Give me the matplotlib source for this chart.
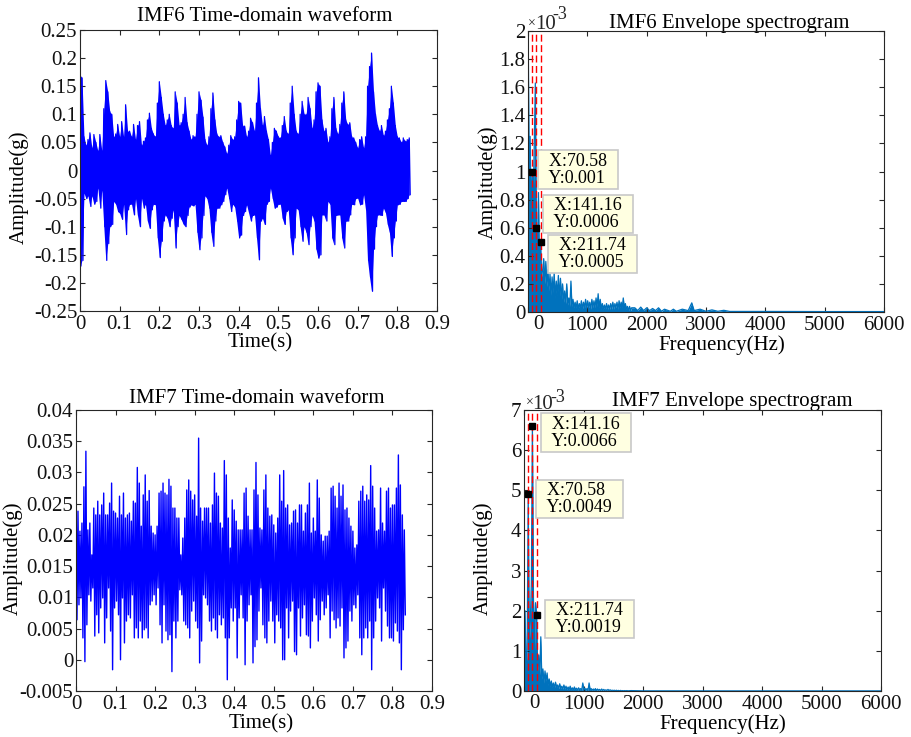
import numpy as np
import matplotlib
matplotlib.use('Agg')
import matplotlib.pyplot as plt
from matplotlib.ticker import FixedLocator, FuncFormatter
import matplotlib.transforms as mtransforms

plt.rcParams['font.family'] = ['Liberation Serif', 'DejaVu Serif']
plt.rcParams['axes.unicode_minus'] = False

# ---------------- data ----------------
# IMF6 time-domain waveform: upper / lower extremes every 5 ms
imf6_dt = 0.005
imf6_upper = [
    0.17, 0.165, 0.06, 0.045, 0.055, 0.067, 0.04, 0.064, 0.05, 0.035,
    0.064, 0.035, 0.11, 0.16, 0.14, 0.105, 0.10, 0.06, 0.065, 0.082,
    0.06, 0.087, 0.06, 0.117, 0.07, 0.07, 0.06, 0.082, 0.055, 0.08,
    0.087, 0.045, 0.052, 0.058, 0.09, 0.102, 0.075, 0.065, 0.06, 0.12,
    0.158, 0.13, 0.10, 0.08, 0.09, 0.10, 0.08, 0.075, 0.14, 0.12,
    0.08, 0.085, 0.10, 0.13, 0.085, 0.07, 0.055, 0.062, 0.06, 0.10,
    0.14, 0.125, 0.095, 0.055, 0.045, 0.06, 0.11, 0.138, 0.09, 0.065,
    0.06, 0.062, 0.05, 0.042, 0.03, 0.045, 0.062, 0.055, 0.06, 0.09,
    0.123, 0.12, 0.08, 0.079, 0.06, 0.07, 0.093, 0.085, 0.07, 0.12,
    0.165, 0.11, 0.08, 0.096, 0.07, 0.055, 0.027, 0.05, 0.075, 0.07,
    0.06, 0.058, 0.08, 0.096, 0.07, 0.065, 0.12, 0.15, 0.10, 0.07,
    0.065, 0.10, 0.123, 0.10, 0.10, 0.13, 0.11, 0.075, 0.09, 0.14,
    0.156, 0.15, 0.09, 0.07, 0.075, 0.05, 0.06, 0.11, 0.13, 0.075,
    0.065, 0.082, 0.12, 0.14, 0.09, 0.082, 0.085, 0.06, 0.058, 0.05,
    0.04, 0.055, 0.06, 0.04, 0.06, 0.15, 0.185, 0.209, 0.14, 0.10,
    0.08, 0.07, 0.08, 0.062, 0.07, 0.09, 0.11, 0.15, 0.12, 0.08,
    0.06, 0.058, 0.05, 0.058, 0.052, 0.055, 0.058]
imf6_lower = [
    -0.17, -0.16, -0.04, -0.05, -0.045, -0.064, -0.045, -0.06, -0.055, -0.031,
    -0.067, -0.035, -0.10, -0.16, -0.13, -0.10, -0.096, -0.055, -0.06, -0.073,
    -0.076, -0.087, -0.06, -0.114, -0.07, -0.06, -0.06, -0.079, -0.05, -0.08,
    -0.10, -0.049, -0.067, -0.06, -0.09, -0.103, -0.07, -0.06, -0.061, -0.12,
    -0.155, -0.126, -0.09, -0.079, -0.085, -0.10, -0.085, -0.07, -0.138, -0.10,
    -0.08, -0.087, -0.095, -0.10, -0.08, -0.065, -0.061, -0.063, -0.06, -0.11,
    -0.141, -0.12, -0.08, -0.045, -0.05, -0.067, -0.11, -0.135, -0.09, -0.067,
    -0.067, -0.061, -0.055, -0.043, -0.031, -0.05, -0.073, -0.06, -0.065, -0.09,
    -0.12, -0.115, -0.08, -0.073, -0.061, -0.075, -0.09, -0.08, -0.079, -0.12,
    -0.159, -0.09, -0.085, -0.096, -0.06, -0.055, -0.031, -0.05, -0.067, -0.065,
    -0.06, -0.06, -0.085, -0.096, -0.073, -0.07, -0.12, -0.15, -0.12, -0.067,
    -0.07, -0.10, -0.126, -0.10, -0.11, -0.132, -0.10, -0.079, -0.09, -0.14,
    -0.156, -0.15, -0.079, -0.079, -0.09, -0.055, -0.06, -0.12, -0.132, -0.08,
    -0.079, -0.079, -0.12, -0.138, -0.09, -0.09, -0.079, -0.06, -0.061, -0.05,
    -0.049, -0.061, -0.06, -0.043, -0.07, -0.16, -0.19, -0.215, -0.14, -0.10,
    -0.079, -0.079, -0.08, -0.067, -0.075, -0.096, -0.11, -0.153, -0.12, -0.09,
    -0.061, -0.06, -0.055, -0.055, -0.055, -0.05, -0.043]

# IMF7 time-domain waveform: successive peaks / troughs, one pair every 5 ms
imf7_dt = 0.005
imf7_peaks = [
    0.0283, 0.0238, 0.0206, 0.0219, 0.0277, 0.0334, 0.0208, 0.0219, 0.0168, 0.0243,
    0.0232, 0.0254, 0.0232, 0.0248, 0.0267, 0.0232, 0.0232, 0.0251, 0.0283, 0.0238,
    0.0235, 0.0227, 0.0262, 0.0232, 0.0267, 0.0227, 0.0232, 0.0235, 0.0222, 0.0254,
    0.0251, 0.0308, 0.0283, 0.0214, 0.0264, 0.0296, 0.0254, 0.0271, 0.0214, 0.0203,
    0.0200, 0.0214, 0.0267, 0.0270, 0.0283, 0.0267, 0.0264, 0.0289, 0.0278, 0.0243,
    0.0243, 0.0227, 0.0227, 0.0168, 0.0195, 0.0227, 0.0272, 0.0288, 0.0270, 0.0256,
    0.0264, 0.0230, 0.0355, 0.0243, 0.0222, 0.0243, 0.0243, 0.0243, 0.0219, 0.0248,
    0.0299, 0.0267, 0.0262, 0.0219, 0.0211, 0.0319, 0.0296, 0.0227, 0.0179, 0.0256,
    0.0240, 0.0222, 0.0208, 0.0208,
    0.0208, 0.0267, 0.0275, 0.0230, 0.0208, 0.0208, 0.0272, 0.0316, 0.0264, 0.0211,
    0.0208, 0.0272, 0.0296, 0.0243, 0.0230, 0.0232, 0.0216, 0.0203, 0.0227, 0.0296,
    0.0254, 0.0303, 0.0243, 0.0248, 0.0216, 0.0219, 0.0238, 0.0240, 0.0219, 0.0248,
    0.0248, 0.0206, 0.0235, 0.0248, 0.0283, 0.0203, 0.0227, 0.0206, 0.0288, 0.0259,
    0.0200, 0.0190, 0.0198, 0.0198, 0.0206, 0.0275, 0.0278, 0.0262, 0.0243, 0.0283,
    0.0262, 0.0280, 0.0240, 0.0243, 0.0227, 0.0214, 0.0206, 0.0179, 0.0184, 0.0254,
    0.0270, 0.0278, 0.0254, 0.0264, 0.0256, 0.0311, 0.0278, 0.0243, 0.0206, 0.0208,
    0.0275, 0.0219, 0.0206, 0.0270, 0.0275, 0.0243, 0.0248, 0.0248, 0.0275, 0.0328,
    0.0280, 0.0232, 0.0208]
imf7_troughs = [
    0.0064, 0.0088, 0.0099, 0.0035, -0.0003, 0.0056, 0.0104, 0.0094, 0.0115, 0.0038,
    0.0072, 0.0043, 0.0083, 0.0099, 0.0027, 0.0067, 0.0115, 0.0046, -0.0016, 0.0083,
    0.0094, 0.0072, 0.0000, 0.0099, 0.0027, 0.0062, 0.0072, 0.0067, 0.0104, 0.0035,
    0.0051, 0.0035, 0.0062, 0.0035, 0.0048, 0.0051, 0.0035, 0.0088, 0.0094, 0.0104,
    0.0088, 0.0115, 0.0056, 0.0027, 0.0088, 0.0046, 0.0032, 0.0040, -0.0019, 0.0062,
    0.0035, 0.0062, 0.0112, 0.0104, 0.0062, 0.0056, 0.0051, 0.0035, 0.0078, 0.0094,
    0.0062, 0.0051, -0.0005, 0.0030, 0.0104, 0.0099, 0.0088, 0.0062, 0.0046, 0.0067,
    0.0048, 0.0035, 0.0072, 0.0056, 0.0067, 0.0035, -0.0032, 0.0035, 0.0083, 0.0062,
    0.0083, 0.0003, 0.0067, 0.0104,
    0.0067, -0.0008, 0.0062, 0.0088, 0.0104, -0.0005, 0.0021, 0.0032, 0.0078, 0.0115,
    0.0056, 0.0035, 0.0027, 0.0062, 0.0094, 0.0062, 0.0027, 0.0072, 0.0062, 0.0051,
    0.0000, 0.0000, 0.0083, 0.0035, 0.0078, 0.0094, 0.0013, 0.0008, 0.0083, 0.0038,
    0.0067, 0.0088, 0.0040, 0.0038, 0.0019, 0.0062, 0.0099, 0.0072, 0.0030, 0.0064,
    0.0094, 0.0072, 0.0083, 0.0104, 0.0035, 0.0078, 0.0064, 0.0051, 0.0067, 0.0054,
    0.0083, 0.0003, 0.0019, 0.0030, 0.0078, 0.0062, 0.0088, 0.0083, 0.0104, 0.0035,
    0.0008, 0.0035, 0.0051, 0.0035, 0.0062, -0.0016, 0.0035, 0.0062, 0.0099, 0.0083,
    0.0030, 0.0115, 0.0078, 0.0054, 0.0035, 0.0035, 0.0030, 0.0059, 0.0046, 0.0027,
    -0.0016, 0.0048, 0.0072]

# Envelope spectra, amplitude in units of 1e-3 g
spec_df = 17.645                     # bin width (Hz); 70.58 Hz = 4 bins
imf6_spec = [
    2.2, 1.1, 1.25, 0.7, 1.0, 0.8, 1.2, 1.63, 0.6, 0.45,
    0.85, 0.3, 0.5, 0.25, 0.3, 0.38, 0.2, 0.36, 0.18, 0.3,
    0.15, 0.27, 0.12, 0.25, 0.14, 0.28, 0.1, 0.22, 0.12, 0.26,
    0.1, 0.24, 0.09, 0.2, 0.07, 0.15, 0.06, 0.2, 0.05, 0.1,
    0.04, 0.22, 0.04, 0.09, 0.03, 0.07, 0.03, 0.08, 0.02, 0.06,
    0.03, 0.08, 0.02, 0.07, 0.03, 0.09, 0.02, 0.08, 0.03, 0.07,
    0.02, 0.09, 0.03, 0.08, 0.03, 0.1, 0.04, 0.13, 0.03, 0.09,
    0.02, 0.06, 0.02, 0.05, 0.02, 0.06, 0.02, 0.05, 0.02, 0.06,
    0.02, 0.07, 0.02, 0.06, 0.03, 0.07, 0.02, 0.08, 0.03, 0.07,
    0.03, 0.1, 0.03, 0.06, 0.02, 0.04, 0.01, 0.04, 0.01, 0.03]
imf6_tail_f = [1800, 1850, 1900, 1950, 2000, 2050, 2100, 2150, 2200, 2250,
               2300, 2400, 2450, 2500, 2600, 2700, 2760, 2800, 2900, 3000,
               3100, 3200, 3300, 3400, 4000, 5000, 6000]
imf6_tail_a = [0.03, 0.01, 0.035, 0.01, 0.03, 0.01, 0.025, 0.01, 0.03, 0.005,
               0.02, 0.005, 0.02, 0.005, 0.02, 0.01, 0.065, 0.01, 0.02, 0.005,
               0.015, 0.005, 0.012, 0.004, 0.004, 0.003, 0.003]
imf7_spec = [
    0.7, 2.0, 0.6, 1.0, 4.9, 1.2, 1.7, 2.7, 6.6, 2.3,
    1.0, 2.2, 1.9, 0.5, 0.9, 0.4, 1.35, 0.3, 0.55, 0.2,
    0.5, 0.25, 0.45, 0.15, 0.3, 0.12, 0.25, 0.1, 0.2, 0.08,
    0.22, 0.1, 0.15, 0.06, 0.18, 0.07, 0.12, 0.05, 0.15, 0.05,
    0.12, 0.04, 0.1, 0.04, 0.12, 0.03, 0.08, 0.03, 0.1, 0.03,
    0.07, 0.02, 0.08, 0.03, 0.06, 0.02, 0.2, 0.03, 0.07, 0.02,
    0.06, 0.02, 0.2, 0.03, 0.06, 0.02, 0.05, 0.02, 0.06, 0.01,
    0.05, 0.02, 0.04, 0.01, 0.05, 0.01, 0.04, 0.01, 0.03, 0.01,
    0.04, 0.01, 0.03, 0.01, 0.02, 0.01, 0.02, 0.005, 0.02, 0.005,
    0.015, 0.005, 0.015, 0.005, 0.01, 0.005, 0.01, 0.005, 0.01, 0.005]
imf7_tail_f = [1800, 2000, 2500, 3000, 4000, 6000]
imf7_tail_a = [0.01, 0.004, 0.004, 0.003, 0.003, 0.003]

# Data tips
tip_freqs = [70.58, 141.16, 211.74]
imf6_tip_y = [0.001, 0.0006, 0.0005]
imf7_tip_y = [0.0049, 0.0066, 0.0019]

# Axis ticks
time_ticks = [0, 0.1, 0.2, 0.3, 0.4, 0.5, 0.6, 0.7, 0.8, 0.9]
freq_ticks = [0, 1000, 2000, 3000, 4000, 5000, 6000]
imf6_yticks = [-0.25, -0.2, -0.15, -0.1, -0.05, 0, 0.05, 0.1, 0.15, 0.2, 0.25]
imf7_yticks = [-0.005, 0, 0.005, 0.01, 0.015, 0.02, 0.025, 0.03, 0.035, 0.04]
imf6_spec_yticks = [0, 0.2, 0.4, 0.6, 0.8, 1, 1.2, 1.4, 1.6, 1.8, 2]
imf7_spec_yticks = [0, 1, 2, 3, 4, 5, 6, 7]

# ---------------- helpers ----------------
def zigzag(hi, lo, dt):
    hi = np.asarray(hi, float)
    lo = np.asarray(lo, float)
    t = np.arange(len(hi)) * dt
    tt = np.column_stack([t, t + dt / 2]).ravel()
    yy = np.column_stack([hi, lo]).ravel()
    return t, tt, yy


def spectrum(bins, tail_f, tail_a, df):
    f = np.concatenate([np.arange(len(bins)) * df, np.asarray(tail_f, float)])
    a = np.concatenate([np.asarray(bins, float), np.asarray(tail_a, float)])
    return f, a


fmt = FuncFormatter(lambda v, p: f'{v:g}')
AXC = '#262626'
TICK_FS = 15
SPEC_C = '#0072BD'


def style(ax, xticks, yticks, xlim, ylim, skip_x0=False):
    ax.set_xlim(*xlim)
    ax.set_ylim(*ylim)
    ax.xaxis.set_major_locator(FixedLocator(xticks))
    ax.yaxis.set_major_locator(FixedLocator(yticks))
    if skip_x0:
        ax.xaxis.set_major_formatter(FuncFormatter(lambda v, p: '' if v == 0 else f'{v:g}'))
    else:
        ax.xaxis.set_major_formatter(fmt)
    ax.yaxis.set_major_formatter(fmt)
    ax.tick_params(direction='in', top=True, right=True, length=3.6, width=0.8,
                   colors=AXC, labelcolor='#111111', labelsize=TICK_FS)
    ax.tick_params(axis='x', pad=3)
    ax.tick_params(axis='y', pad=2)
    for s in ax.spines.values():
        s.set_color(AXC)
        s.set_linewidth(0.8)
        s.set_zorder(4)


def labels(ax, title, tpos, xl, xpos, yl, ypos):
    ax.text(tpos[0], tpos[1], title, transform=ax.transAxes, ha='center',
            va='baseline', fontsize=15, color='k')
    ax.set_xlabel(xl, fontsize=15, va='center', color='k')
    ax.xaxis.set_label_coords(*xpos)
    ax.set_ylabel(yl, fontsize=15, va='center', color='k')
    ax.yaxis.set_label_coords(*ypos)


def exponent(ax, xs, ys):
    ax.text(xs[0], ys[0], '\u00d7', transform=ax.transAxes, ha='center', va='baseline', fontsize=10, color=AXC)
    ax.text(xs[1], ys[1], '10', transform=ax.transAxes, ha='left', va='baseline', fontsize=15, color=AXC)
    ax.text(xs[2], ys[2], '-3', transform=ax.transAxes, ha='left', va='baseline', fontsize=13, color=AXC)


def zero_label(ax, fig):
    tr = mtransforms.blended_transform_factory(ax.transData, ax.transAxes)
    tr = tr + mtransforms.ScaledTranslation(10 / 100, -3 / 100, fig.dpi_scale_trans)
    ax.text(0, 0, '0', transform=tr, ha='center', va='top', fontsize=TICK_FS, color='#111111')


def tips(ax, freqs, ys, offsets):
    for f in freqs:
        ax.axvline(f, color='#ff0000', lw=1.0, ls=(0, (5, 2.5)), zorder=3)
    for f, y, (dx, dy) in zip(freqs, ys, offsets):
        ax.plot([f], [y * 1e3], 's', color='k', ms=4, zorder=5)
        ax.annotate(f'  X:{f:.2f}  \n  Y:{y:g}  ', xy=(f, y * 1e3), xytext=(dx, dy),
                    textcoords='offset pixels', ha='left', va='center', fontsize=13,
                    linespacing=1.0, color='k', zorder=6,
                    bbox=dict(boxstyle='square,pad=0.12', fc='#FFFFE1', ec='#C8C8C8', lw=1.2))


# ---------------- figure ----------------
W, H = 911, 737
fig = plt.figure(figsize=(W / 100, H / 100), dpi=100)


def add_axes(l, r, t, b):
    return fig.add_axes([l / W, 1 - b / H, (r - l) / W, (b - t) / H])


ax1 = add_axes(80, 437, 30, 311)
ax2 = add_axes(528, 884, 31, 312)
ax3 = add_axes(76, 432, 410, 691)
ax4 = add_axes(524, 881, 410, 691)

# IMF6 waveform
tk6, t6, y6 = zigzag(imf6_upper, imf6_lower, imf6_dt)
ax1.fill_between(tk6, imf6_lower, imf6_upper, color='#0000ff', lw=0)
ax1.plot(t6, y6, color='#0000ff', lw=0.9)
style(ax1, time_ticks, imf6_yticks, (0, 0.9), (-0.25, 0.25))
labels(ax1, 'IMF6 Time-domain waveform', (0.517, 1.033), 'Time(s)', (0.504, -0.115),
       'Amplitude(g)', (-0.171, 0.441))

# IMF6 envelope spectrum
f6, a6 = spectrum(imf6_spec, imf6_tail_f, imf6_tail_a, spec_df)
ax2.fill_between(f6, 0, a6, color=SPEC_C, lw=0)
ax2.plot(f6, a6, color=SPEC_C, lw=0.9)
style(ax2, freq_ticks, imf6_spec_yticks, (0, 6000), (0, 2), skip_x0=True)
zero_label(ax2, fig)
labels(ax2, 'IMF6 Envelope spectrogram', (0.565, 1.010), 'Frequency(Hz)', (0.544, -0.118),
       'Amplitude(g)', (-0.112, 0.463))
exponent(ax2, (0.011, 0.0197, 0.0674), (1.0107, 1.006, 1.0416))
tips(ax2, tip_freqs, imf6_tip_y, [(7.5, 2), (9, 13.5), (9.5, -12)])

# IMF7 waveform
_, t7, y7 = zigzag(imf7_peaks, imf7_troughs, imf7_dt)
ax3.plot(t7, y7, color='#0000ff', lw=1.0)
style(ax3, time_ticks, imf7_yticks, (0, 0.9), (-0.005, 0.04))
labels(ax3, 'IMF7 Time-domain waveform', (0.508, 1.024), 'Time(s)', (0.52, -0.117),
       'Amplitude(g)', (-0.177, 0.473))

# IMF7 envelope spectrum
f7, a7 = spectrum(imf7_spec, imf7_tail_f, imf7_tail_a, spec_df)
ax4.fill_between(f7, 0, a7, color=SPEC_C, lw=0)
ax4.plot(f7, a7, color=SPEC_C, lw=0.9)
style(ax4, freq_ticks, imf7_spec_yticks, (0, 6000), (0, 7), skip_x0=True)
zero_label(ax4, fig)
labels(ax4, 'IMF7 Envelope spectrogram', (0.582, 1.014), 'Frequency(Hz)', (0.557, -0.117),
       'Amplitude(g)', (-0.115, 0.473))
exponent(ax4, (0.0154, 0.0224, 0.0728), (1.0107, 1.0036, 1.0285))
tips(ax4, tip_freqs, imf7_tip_y, [(10, -4.7), (10.5, -6.6), (10.5, -4.4)])

fig.savefig('out.png', dpi=100)
